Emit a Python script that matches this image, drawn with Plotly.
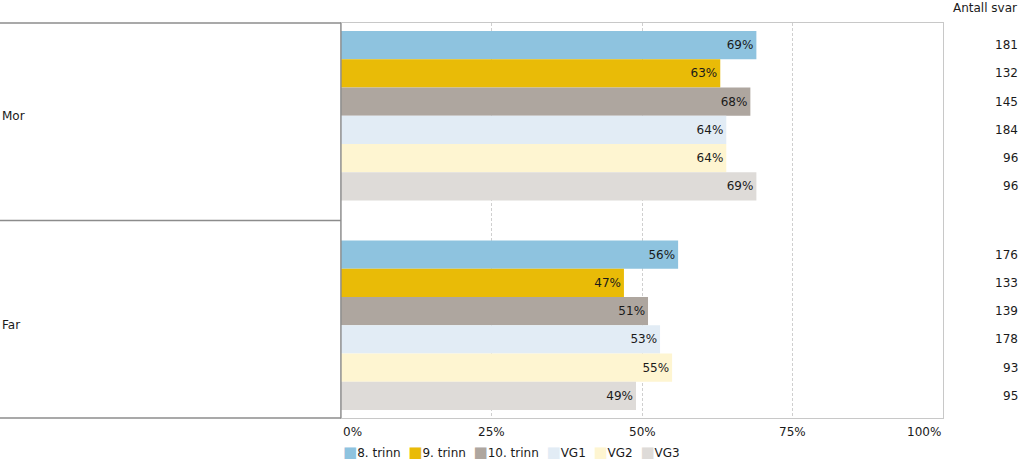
import plotly.graph_objects as go

categories = ["Mor", "Far"]
series = ["8. trinn", "9. trinn", "10. trinn", "VG1", "VG2", "VG3"]
colors = ["#8EC3DF", "#E9BB07", "#AEA69F", "#E2ECF5", "#FEF5D1", "#DEDBD8"]
values = {
    "8. trinn": [69, 56],
    "9. trinn": [63, 47],
    "10. trinn": [68, 51],
    "VG1": [64, 53],
    "VG2": [64, 55],
    "VG3": [69, 49],
}
counts = {
    "8. trinn": [181, 176],
    "9. trinn": [132, 133],
    "10. trinn": [145, 139],
    "VG1": [184, 178],
    "VG2": [96, 93],
    "VG3": [96, 95],
}
tick_vals = [0, 25, 50, 75, 100]
tick_text = ["0%", "25%", "50%", "75%", "100%"]
count_title = "Antall svar"

FONT = "DejaVu Sans"
TXT = "#1A1A1A"
W, H = 1024, 463
L, R, T, B = 341, 81, 23, 45
pw = W - L - R
ph = H - T - B
bargap = 0.19
edge = 0.038
half = (1 - bargap) / 2

fig = go.Figure()
for s, c in zip(series, colors):
    fig.add_trace(go.Bar(
        y=categories, x=values[s], name=s, orientation="h",
        marker=dict(color=c, line=dict(width=0)),
        text=[f"{v}%" for v in values[s]],
        textposition="inside", insidetextanchor="end",
        textfont=dict(family=FONT, size=12, color=TXT),
        constraintext="none", textangle=0,
        showlegend=False, hoverinfo="skip",
    ))

ann = []
n = len(series)
bw = (1 - bargap) / n
cx = (W - 4 - L) / pw
for ci, cat in enumerate(categories):
    for si, s in enumerate(series):
        yc = ci - half + (si + 0.5) * bw
        ann.append(dict(x=cx, xref="paper", y=yc, yref="y", text=str(counts[s][ci]),
                        xanchor="right", yanchor="middle", showarrow=False,
                        font=dict(family=FONT, size=12, color=TXT)))
    ann.append(dict(x=-L / pw, xref="paper", y=ci, yref="y", text=cat,
                    xanchor="left", yanchor="middle", showarrow=False,
                    font=dict(family=FONT, size=12, color=TXT)))
ann.append(dict(x=(W - 5 - L) / pw, xref="paper", y=(ph + 15) / ph, yref="paper",
                text=count_title, xanchor="right", yanchor="middle", showarrow=False,
                font=dict(family=FONT, size=12, color=TXT)))
for i, (tv, tt) in enumerate(zip(tick_vals, tick_text)):
    anchor = "left" if i == 0 else ("right" if i == len(tick_vals) - 1 else "center")
    ann.append(dict(x=tv, xref="x", y=-14 / ph, yref="paper", text=tt,
                    xanchor=anchor, yanchor="middle", showarrow=False,
                    font=dict(family=FONT, size=12, color=TXT)))
parts = []
for s, c in zip(series, colors):
    parts.append(f"<span style='color:{c};font-size:15px'>\u25A0</span>{s}")
legend_text = "\u00a0\u00a0".join(parts)
ann.append(dict(x=0, xref="paper", y=-34 / ph, yref="paper", text=legend_text,
                xanchor="left", yanchor="middle", showarrow=False,
                font=dict(family=FONT, size=12, color=TXT)))

box = "#8C8C8C"
shapes = []
for yy in [0, 0.5, 1]:
    shapes.append(dict(type="line", xref="paper", yref="paper", x0=-L / pw, x1=0,
                       y0=yy, y1=yy, line=dict(color=box, width=1.3)))
shapes.append(dict(type="line", xref="paper", yref="paper", x0=0, x1=0, y0=0, y1=1,
                   line=dict(color=box, width=1.3)))

fig.update_layout(
    width=W, height=H,
    margin=dict(l=L, r=R, t=T, b=B),
    paper_bgcolor="white", plot_bgcolor="white",
    barmode="group", bargap=bargap, bargroupgap=0,
    font=dict(family=FONT, size=12, color=TXT),
    annotations=ann, shapes=shapes,
    showlegend=False,
)
fig.update_xaxes(range=[0, 100], tickvals=tick_vals, showticklabels=False,
                 showgrid=True, gridcolor="#CFCFCF", griddash="3px,2px", gridwidth=1,
                 zeroline=False, showline=True, mirror=True, linecolor="#C8C8C8",
                 fixedrange=True)
fig.update_yaxes(range=[1 + half + edge, -half - edge], showticklabels=False,
                 showgrid=False, zeroline=False, showline=True, mirror=True,
                 linecolor="#C8C8C8", fixedrange=True)

fig.write_html("out.html", config={"displayModeBar": False},
               post_script="document.body.style.margin='0px';document.body.style.overflow='hidden';")
